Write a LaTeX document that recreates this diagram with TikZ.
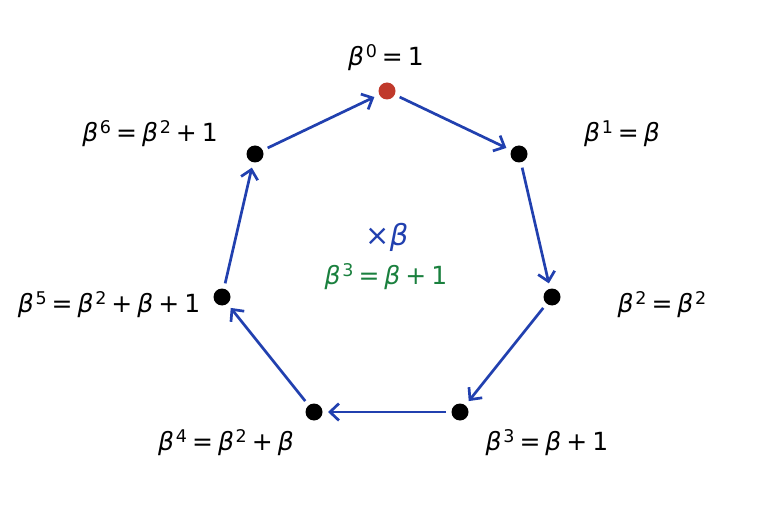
\documentclass[tikz,border=0pt]{standalone}
\usepackage{fontspec}
\setmainfont{DejaVu Sans}
\usetikzlibrary{arrows.meta}
\definecolor{arrowblue}{RGB}{33,64,175}
\definecolor{dotred}{RGB}{192,57,43}
\definecolor{eqgreen}{RGB}{26,128,62}
\newcommand{\bb}{\textit{β}}
\newcommand{\bs}[1]{\textit{β}\kern0.07em\raisebox{0.32em}{\fontsize{17.5bp}{18bp}\selectfont #1}}
\newcommand{\eqq}{\kern0.2em=\kern0.2em}
\newcommand{\pll}{\kern0.2em+\kern0.2em}
\begin{document}
\begin{tikzpicture}[x=1bp,y=-1bp,
  dot/.style={circle,fill=black,inner sep=0pt,minimum size=17bp},
  reddot/.style={circle,fill=dotred,inner sep=0pt,minimum size=17bp},
  lbl/.style={inner sep=0pt,font=\fontsize{25bp}{29bp}\selectfont},
  conn/.style={draw=arrowblue,line width=2.7bp,-{Straight Barb[length=9bp,width=17bp,line width=2.7bp]},shorten <=14bp,shorten >=14bp}]
\useasboundingbox (0,0) rectangle (774,520);
\node[reddot] (p0) at (387,91) {};
\node[dot] (p1) at (519,154) {};
\node[dot] (p2) at (552,297) {};
\node[dot] (p3) at (460,412) {};
\node[dot] (p4) at (314,412) {};
\node[dot] (p5) at (222,297) {};
\node[dot] (p6) at (255,154) {};
\draw[conn] (p0.center) -- (p1.center);
\draw[conn] (p1.center) -- (p2.center);
\draw[conn] (p2.center) -- (p3.center);
\draw[conn] (p3.center) -- (p4.center);
\draw[conn] (p4.center) -- (p5.center);
\draw[conn] (p5.center) -- (p6.center);
\draw[conn] (p6.center) -- (p0.center);
\node[lbl] (l0) at (386,58) {\bs{0}\eqq 1};
\node[lbl] (l1) at (622,134) {\bs{1}\eqq\bb};
\node[lbl] (l2) at (662,305) {\bs{2}\eqq\bs{2}};
\node[lbl] (l3) at (547,443) {\bs{3}\eqq\bb\pll 1};
\node[lbl] (l4) at (226,443) {\bs{4}\eqq\bs{2}\pll\bb};
\node[lbl] (l5) at (109,305) {\bs{5}\eqq\bs{2}\pll\bb\pll 1};
\node[lbl] (l6) at (150,134) {\bs{6}\eqq\bs{2}\pll 1};
\node[lbl,font=\fontsize{29bp}{33bp}\selectfont,text=arrowblue] (mul) at (387,237) {×\bb};
\node[lbl,text=eqgreen] (rel) at (386,277) {\bs{3}\eqq\bb\pll 1};
\end{tikzpicture}
\end{document}
